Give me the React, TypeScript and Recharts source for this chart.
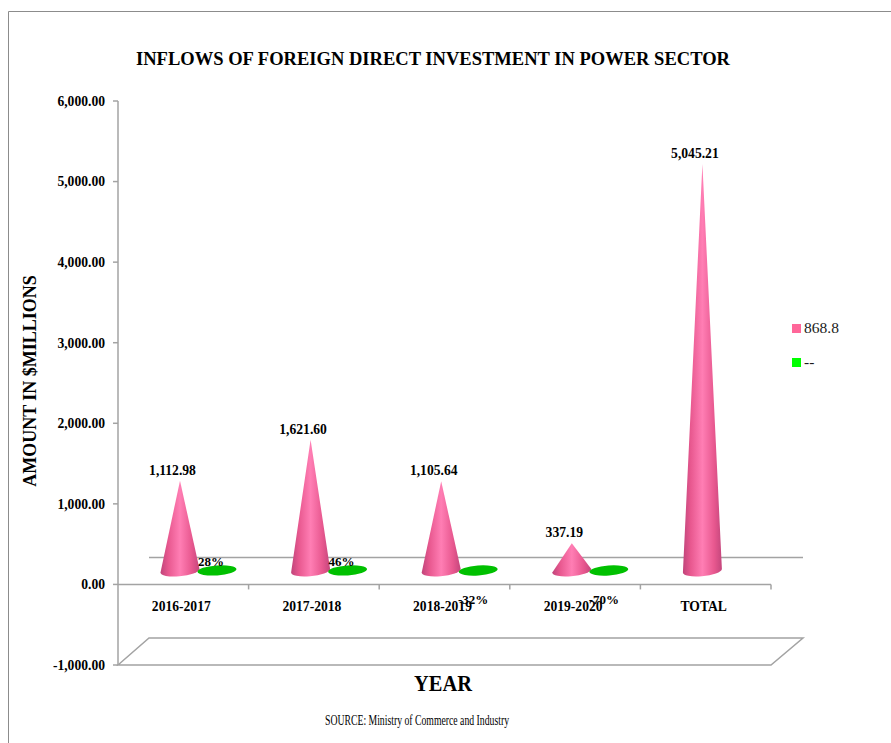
import React from "react";
import {
  BarChart,
  Bar,
  XAxis,
  YAxis,
  ReferenceLine,
  Legend,
  LabelList,
} from "recharts";

const years = ["2016-2017", "2017-2018", "2018-2019", "2019-2020", "TOTAL"];
const inflows = [1112.98, 1621.6, 1105.64, 337.19, 5045.21];
const growth = [0.28, 0.46, -0.32, -0.7, null];
const yTicks = [-1000, 0, 1000, 2000, 3000, 4000, 5000, 6000];

const data = years.map((year, i) => ({
  year,
  inflow: inflows[i],
  change: growth[i],
}));

const WIDTH = 891;
const HEIGHT = 743;
const SERIF = "'Liberation Serif', serif";
const AXIS_COLOR = "#a3a3a3";
const LABEL_SIZE = 13.6;

const margin = { top: 101, right: 120, bottom: 0, left: 0 };
const Y_AXIS_W = 118;
const X_AXIS_H = 78;
const plotRight = WIDTH - margin.right;
const plotBottom = HEIGHT - X_AXIS_H;
const band = (plotRight - Y_AXIS_W) / years.length;
const zeroY = margin.top + ((plotBottom - margin.top) * 6000) / 7000;

// marks stand halfway back on the floor, so they are nudged up and right
const DEPTH_X = 15.5;
const DEPTH_Y = 14;
const FLOOR_X = 31;
const FLOOR_Y = 27;

const money = (v: number) =>
  v.toLocaleString("en-US", { minimumFractionDigits: 2, maximumFractionDigits: 2 });

const Cone = (props: any) => {
  const { x, y, width, height } = props;
  const cx = x + width / 2 + DEPTH_X;
  const tip = y - DEPTH_Y;
  const base = y + height - DEPTH_Y;
  const r = width / 2;
  return (
    <path
      d={`M${cx},${tip} L${cx + r},${base - 1.5} A${r},5.5 -6 0 1 ${cx - r},${base + 2} Z`}
      fill="url(#coneFill)"
    />
  );
};

const Disc = (props: any) => {
  const { x, y, width, value } = props;
  if (value == null) return null;
  const cx = x + width / 2 + DEPTH_X;
  const cy = y - DEPTH_Y;
  return (
    <ellipse
      cx={cx}
      cy={cy}
      rx={width / 2}
      ry={5}
      fill="#00c000"
      transform={`rotate(-4 ${cx} ${cy})`}
    />
  );
};

const ConeLabel = (props: any) => {
  const { x, y, width, value } = props;
  return (
    <text
      x={x + width / 2 + DEPTH_X - 7.5}
      y={y - DEPTH_Y - 6}
      textAnchor="middle"
      fontFamily={SERIF}
      fontWeight="bold"
      fontSize={LABEL_SIZE}
      fill="#000"
    >
      {money(value)}
    </text>
  );
};

const DiscLabel = (props: any) => {
  const { x, width, value } = props;
  if (value == null) return null;
  const below = value < 0;
  return (
    <text
      x={x + width / 2 + DEPTH_X - (below ? 5 : 6)}
      y={zeroY + (below ? 20 : -18)}
      textAnchor="middle"
      fontFamily={SERIF}
      fontWeight="bold"
      fontSize={13}
      fill="#000"
    >
      {`${Math.round(value * 100)}%`}
    </text>
  );
};

// category names hang below the zero line, not at the bottom of the plot
const YearTick = (props: any) => {
  const { x, payload } = props;
  const edge = x + band / 2;
  return (
    <g>
      <line x1={edge} x2={edge} y1={zeroY} y2={zeroY + 5} stroke={AXIS_COLOR} strokeWidth={1.5} />
      <text
        x={x - 2}
        y={zeroY + 27}
        textAnchor="middle"
        fontFamily={SERIF}
        fontWeight="bold"
        fontSize={LABEL_SIZE}
        fill="#000"
      >
        {payload.value}
      </text>
    </g>
  );
};

const LegendBox = ({ payload }: any) => (
  <div style={{ fontFamily: SERIF }}>
    {(payload || []).map((entry: any) => (
      <div
        key={entry.value}
        style={{ display: "flex", alignItems: "center", height: 34, fontSize: 15.5, color: "#1a1a1a" }}
      >
        <span
          style={{ width: 9, height: 9, marginRight: 3, background: entry.color, display: "inline-block" }}
        />
        {entry.value}
      </div>
    ))}
  </div>
);

const App = () => {
  return (
    <div style={{ position: "absolute", left: 0, top: 0, width: WIDTH, height: HEIGHT, background: "#fff" }}>
      <BarChart width={WIDTH} height={HEIGHT} data={data} margin={margin} barSize={39} barGap={-2} barCategoryGap={0}>
        <defs>
          <linearGradient id="coneFill" x1="0" y1="0" x2="1" y2="0">
            <stop offset="0" stopColor="#c0447a" />
            <stop offset="0.2" stopColor="#e8588f" />
            <stop offset="0.5" stopColor="#ff7eb4" />
            <stop offset="0.8" stopColor="#e8588f" />
            <stop offset="1" stopColor="#c4467c" />
          </linearGradient>
        </defs>

        {/* outer frame of the chart area */}
        <path d={`M8.5,${HEIGHT} V11.5 H${WIDTH}`} fill="none" stroke="#8c8c8c" strokeWidth={1} />

        {/* floor of the 3D box */}
        <path
          d={`M${Y_AXIS_W},${plotBottom} L${Y_AXIS_W + FLOOR_X},${plotBottom - FLOOR_Y} H${plotRight + FLOOR_X + 1} L${plotRight},${plotBottom} Z`}
          fill="none"
          stroke={AXIS_COLOR}
          strokeWidth={1.5}
        />
        <line
          x1={Y_AXIS_W + FLOOR_X}
          x2={plotRight + FLOOR_X + 1}
          y1={zeroY - FLOOR_Y}
          y2={zeroY - FLOOR_Y}
          stroke={AXIS_COLOR}
          strokeWidth={1.5}
        />

        <XAxis
          dataKey="year"
          height={X_AXIS_H}
          axisLine={false}
          tickLine={false}
          interval={0}
          tick={<YearTick />}
        />
        <YAxis
          width={Y_AXIS_W}
          domain={[-1000, 6000]}
          ticks={yTicks}
          interval={0}
          allowDataOverflow
          tickFormatter={money}
          tickSize={5}
          tickMargin={8}
          stroke={AXIS_COLOR}
          strokeWidth={1.5}
          tick={{ fontFamily: SERIF, fontWeight: "bold", fontSize: LABEL_SIZE, fill: "#000" }}
        />
        <ReferenceLine y={0} stroke={AXIS_COLOR} strokeWidth={1.5} />

        <Bar dataKey="inflow" name="868.8" fill="#ff6699" shape={<Cone />} isAnimationActive={false}>
          <LabelList dataKey="inflow" content={<ConeLabel />} />
        </Bar>
        <Bar dataKey="change" name="--" fill="#00ff00" shape={<Disc />} isAnimationActive={false}>
          <LabelList dataKey="change" content={<DiscLabel />} />
        </Bar>

        <Legend
          layout="vertical"
          align="center"
          verticalAlign="middle"
          itemSorter={null}
          wrapperStyle={{ left: 792, top: 311, width: 80 }}
          content={<LegendBox />}
        />

        <text
          x={136}
          y={65}
          textLength={594}
          lengthAdjust="spacingAndGlyphs"
          fontFamily={SERIF}
          fontWeight="bold"
          fontSize={19.5}
        >
          INFLOWS OF FOREIGN DIRECT INVESTMENT IN POWER SECTOR
        </text>
        <text
          transform="translate(36 381) rotate(-90)"
          textAnchor="middle"
          fontFamily={SERIF}
          fontWeight="bold"
          fontSize={18}
        >
          AMOUNT IN $MILLIONS
        </text>
        <text
          x={414}
          y={691}
          textLength={58}
          lengthAdjust="spacingAndGlyphs"
          fontFamily={SERIF}
          fontWeight="bold"
          fontSize={23}
        >
          YEAR
        </text>
        <text
          x={325}
          y={725}
          textLength={184}
          lengthAdjust="spacingAndGlyphs"
          fontFamily={SERIF}
          fontSize={14}
        >
          SOURCE: Ministry of Commerce and Industry
        </text>
      </BarChart>
    </div>
  );
};

export default App;
